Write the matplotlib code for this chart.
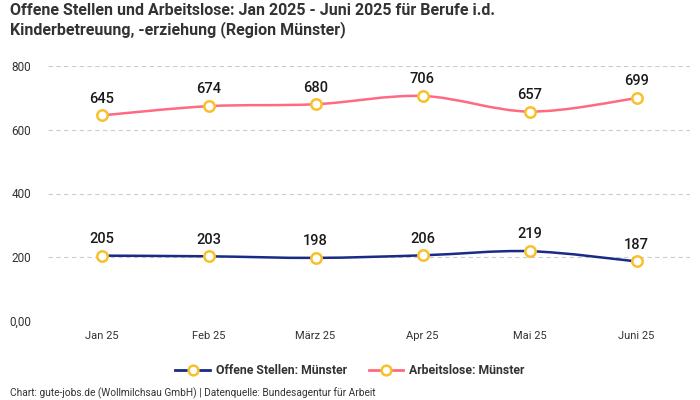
import matplotlib.pyplot as plt
from matplotlib.path import Path
from matplotlib.patches import PathPatch
from matplotlib.lines import Line2D

plt.rcParams['font.family'] = ['Roboto', 'DejaVu Sans']

monate = ['Jan 25', 'Feb 25', 'März 25', 'Apr 25', 'Mai 25', 'Juni 25']
offene_stellen = [205, 203, 198, 206, 219, 187]
arbeitslose = [645, 674, 680, 706, 657, 699]
y_ticks = [0, 200, 400, 600, 800]
y_labels = ['0,00', '200', '400', '600', '800']

blau = '#1a2a87'
rosa = '#fe6a80'
gelb = '#f7c12b'


def glatte_linie(ax, xs, ys, farbe):
    # Catmull-Rom als Bezier-Segmente
    verts = [(xs[0], ys[0])]
    codes = [Path.MOVETO]
    n = len(xs)
    for i in range(n - 1):
        x0, y0 = (xs[i - 1], ys[i - 1]) if i > 0 else (xs[i], ys[i])
        x1, y1 = xs[i], ys[i]
        x2, y2 = xs[i + 1], ys[i + 1]
        x3, y3 = (xs[i + 2], ys[i + 2]) if i + 2 < n else (x2, y2)
        t = 1 / 6
        c1 = (x1 + (x2 - x0) * t, y1 + (y2 - y0) * t)
        c2 = (x2 - (x3 - x1) * t, y2 - (y3 - y1) * t)
        verts += [c1, c2, (x2, y2)]
        codes += [Path.CURVE4] * 3
    ax.add_patch(PathPatch(Path(verts, codes), fill=False, edgecolor=farbe,
                           lw=1.8, zorder=3, capstyle='round'))


fig = plt.figure(figsize=(7, 4), dpi=100)
ax = fig.add_axes([48 / 700, 79 / 400, 642 / 700, 255 / 400])

x = list(range(len(monate)))
for werte, farbe in [(offene_stellen, blau), (arbeitslose, rosa)]:
    glatte_linie(ax, x, werte, farbe)
    ax.plot(x, werte, ls='none', marker='o', ms=7.5, mfc='white', mec=gelb,
            mew=1.8, zorder=4, clip_on=False)
    for xi, v in zip(x, werte):
        ax.annotate(str(v), (xi, v), xytext=(0, 7), textcoords='offset points',
                    ha='center', va='bottom', fontsize=10.5, fontweight='medium',
                    color='#1a1a1a', zorder=5)

ax.set_xlim(-0.5, len(monate) - 0.5)
ax.set_ylim(0, 800)
ax.set_yticks(y_ticks)
ax.set_yticklabels(y_labels)
ax.set_xticks(x)
ax.set_xticklabels(monate)
ax.tick_params(axis='both', length=0, labelsize=8.5, colors='#333333')
ax.tick_params(axis='y', pad=12)
ax.tick_params(axis='x', pad=7, labelsize=8)
ax.grid(axis='y', color='#cccccc', ls=(0, (4, 3)), lw=0.8)
for s in ax.spines.values():
    s.set_visible(False)

fig.text(10 / 700, 1 - 3 / 400,
         'Offene Stellen und Arbeitslose: Jan 2025 - Juni 2025 für Berufe i.d.\n'
         'Kinderbetreuung, -erziehung (Region Münster)',
         ha='left', va='top', fontsize=11.5, fontweight='bold', color='#333333',
         linespacing=1.25)

handles = [Line2D([], [], color=blau, lw=2, marker='o', ms=7, mfc='white', mec=gelb, mew=1.8),
           Line2D([], [], color=rosa, lw=2, marker='o', ms=7, mfc='white', mec=gelb, mew=1.8)]
fig.legend(handles, ['Offene Stellen: Münster', 'Arbeitslose: Münster'],
           loc='center', bbox_to_anchor=(0.5, 1 - 371 / 400), ncol=2, frameon=False,
           prop={'size': 8.8, 'weight': 'bold'}, labelcolor='#333333',
           handlelength=2.8, columnspacing=1.8, handletextpad=0.5)

fig.text(10 / 700, 1 - 393 / 400,
         'Chart: gute-jobs.de (Wollmilchsau GmbH) | Datenquelle: Bundesagentur für Arbeit',
         ha='left', va='center', fontsize=7.3, color='#333333')

fig.savefig('out.png', dpi=100)
